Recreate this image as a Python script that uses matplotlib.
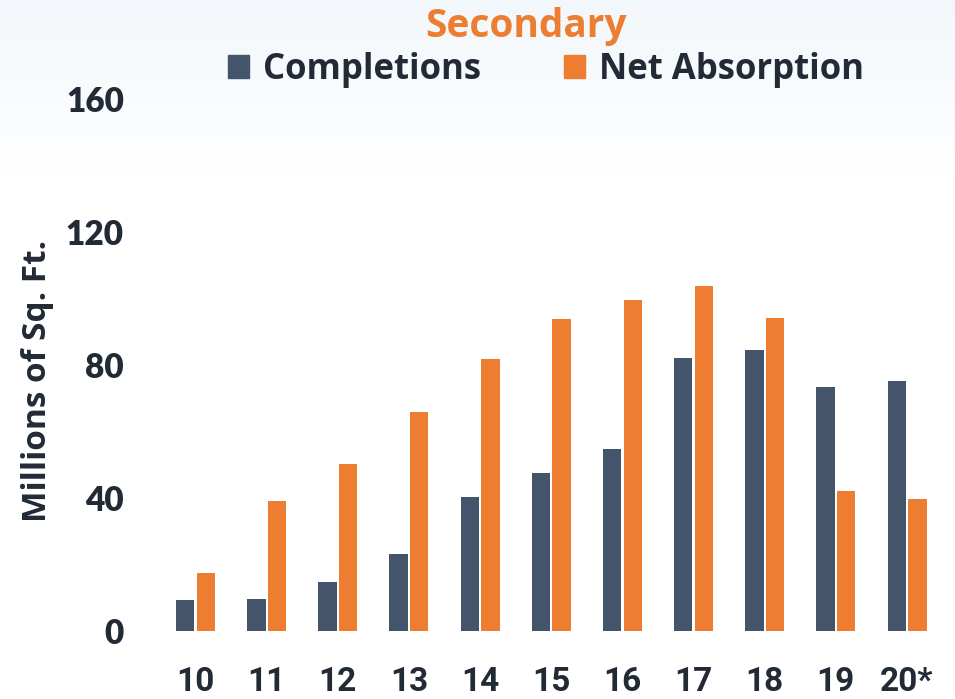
import numpy as np
import matplotlib
matplotlib.use("Agg")
import matplotlib.pyplot as plt
from matplotlib.patches import Patch

# data
years = ['10', '11', '12', '13', '14', '15', '16', '17', '18', '19', '20*']
completions = [9.3, 9.6, 14.7, 23.2, 40.4, 47.6, 54.8, 82.0, 84.4, 73.5, 75.1]
net_absorption = [17.4, 39.0, 50.3, 65.9, 81.8, 94.0, 99.5, 103.9, 94.1, 42.1, 39.8]

navy = '#44546A'
orange = '#ED7D31'
txt = '#222A35'

fig = plt.figure(figsize=(9.55, 6.99), dpi=100)

# faint gradient behind the top of the slide
bg = fig.add_axes([0, 0, 1, 1], zorder=-10)
grad = np.linspace(0, 1, 256).reshape(-1, 1)
top = np.array([0.95, 0.97, 0.985])
bot = np.array([1.0, 1.0, 1.0])
w = np.clip(grad / 0.25, 0, 1)
img = (top * (1 - w) + bot * w)[:, None, :]
bg.imshow(img, aspect='auto', extent=[0, 1, 0, 1], origin='upper')
bg.axis('off')

ax = fig.add_axes([0.1675, 0.0973, 0.8195, 0.7609])
ax.patch.set_alpha(0)
x = np.arange(len(years))
wd = 0.258
ax.bar(x - 0.145, completions, width=wd, color=navy)
ax.bar(x + 0.145, net_absorption, width=wd, color=orange)

ax.set_xlim(-0.5, len(years) - 0.5)
ax.set_ylim(0, 160)
ax.set_yticks([0, 40, 80, 120, 160])
ax.set_xticks(x)
ax.set_xticklabels(years, fontfamily='Roboto', fontweight='bold', fontsize=24, color=txt)
for t in ax.get_yticklabels():
    t.set_fontfamily('Lato')
    t.set_fontweight('heavy')
    t.set_fontsize(24)
    t.set_color(txt)
ax.tick_params(axis='both', length=0)
ax.tick_params(axis='y', pad=26)
ax.tick_params(axis='x', pad=25)
for s in ax.spines.values():
    s.set_visible(False)

ax.set_ylabel('Millions of Sq. Ft.', fontfamily='Open Sans', fontweight='bold',
              fontsize=24, color=txt)
ax.yaxis.set_label_coords(-0.136, 0.47)

fig.text(0.551, 1 - 27 / 699, 'Secondary', ha='center', va='center',
         fontfamily='Open Sans', fontweight='bold', fontsize=28, color=orange)

handles = [Patch(color=navy, label='Completions'), Patch(color=orange, label='Net Absorption')]
leg = fig.legend(handles=handles, loc='center', bbox_to_anchor=(0.572, 1 - 70 / 699),
                 ncol=2, frameon=False, handlelength=0.6, handleheight=0.65,
                 handletextpad=0.4, columnspacing=2.4,
                 prop={'family': 'Open Sans', 'weight': 'bold', 'size': 25})
for t in leg.get_texts():
    t.set_color(txt)

fig.savefig('out.png', dpi=100)
